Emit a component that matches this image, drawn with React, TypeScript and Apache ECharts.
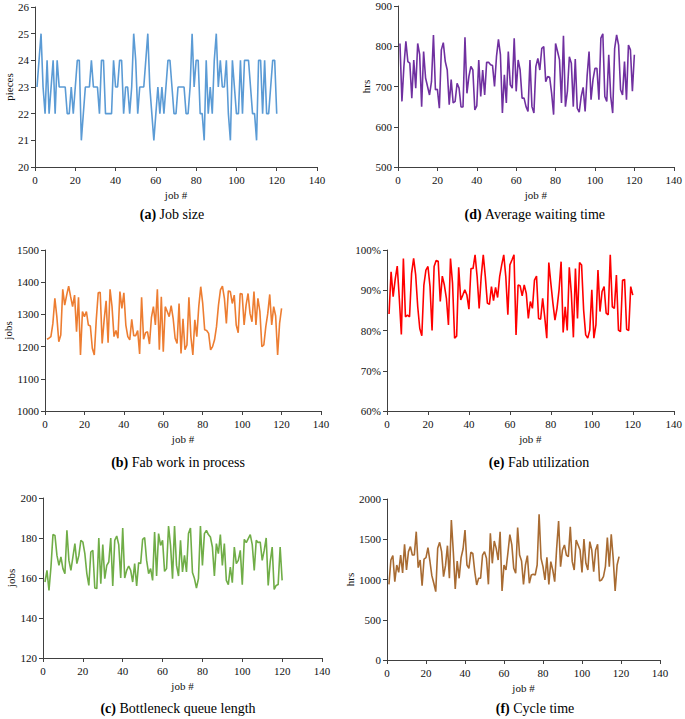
import React, { useEffect, useRef } from "react";
import * as echarts from "echarts";

const FONT = "Liberation Serif, Times New Roman, serif";

const jobSize = [23,24,25,23,22,24,22,23,24,22,24,23,23,23,23,22,22,23,22,23,24,24,21,22,23,23,23,24,23,23,23,22,24,24,22,22,22,22,24,23,23,24,24,22,23,23,22,23,25,24,22,23,23,23,24,25,23,22,21,22,23,22,23,22,23,24,24,23,22,22,23,23,23,23,22,22,23,25,23,24,24,22,22,21,24,22,23,22,24,25,23,24,23,23,24,22,21,24,23,22,22,24,22,24,24,24,23,22,22,21,24,24,22,24,22,22,23,24,24,22];

const avgWait = [807,663,750,812,762,758,671,766,696,807,779,650,787,721,700,679,712,828,692,693,646,791,809,762,741,655,717,659,663,708,696,649,649,822,683,725,750,741,642,652,766,675,741,679,760,760,754,752,700,774,817,779,634,729,
659,787,704,696,820,688,766,741,671,671,650,638,766,650,634,750,770,741,795,799,712,725,723,683,630,807,787,766,659,826,650,688,774,758,650,768,646,636,675,698,638,725,787,667,717,745,745,667,820,831,675,663,779,675,634,795,828,803,692,679,762,667,803,791,688,779];

const fabWip = [1223,1226,1231,1272,1350,1293,1215,1236,1378,1329,1360,1388,1355,1324,1360,1246,1353,1174,1309,1293,1309,1267,1264,1195,1174,1283,1367,1369,1210,1283,1342,1212,1378,1324,1231,1250,1226,1371,1319,1367,1267,1231,1221,1285,1234,1234,1250,1177,1353,1223,1243,1246,1208,1291,1324,1267,1378,1190,
1355,1184,1324,1309,1293,1327,1288,1226,1210,1334,1179,1286,1190,1205,1353,1231,1174,1283,1231,1324,1386,1334,1252,1250,1241,1190,1200,1221,1262,1329,1376,1388,1350,1272,1373,1371,1334,1360,1267,1243,1365,1363,1267,1329,1365,1303,1277,1371,1267,1350,1309,1200,1205,1262,1303,1362,1267,1324,1295,1174,1272,1319];

const fabUtil = [84.1,94.6,88.4,92.7,96.0,88.0,79.0,97.9,83.4,83.8,83.4,94.2,97.9,93.8,85.9,80.5,78.7,91.3,95.0,95.9,90.9,80.0,95.9,97.4,97.2,87.2,93.5,91.3,88.0,81.4,97.9,91.7,78.1,78.6,95.7,87.6,88.8,90.1,88.8,85.3,95.4,95.4,98.8,93.4,85.5,93.4,98.8,93.4,86.8,86.5,90.9,87.4,90.7,88.2,93.4,96.3,98.8,93.4,83.9,96.3,
97.5,98.8,78.9,91.3,91.1,88.6,91.3,89.2,83.0,87.2,85.5,92.5,93.5,83.0,82.8,88.0,83.4,78.1,96.9,91.7,86.8,82.6,85.5,90.1,97.1,79.5,85.9,80.0,95.7,89.2,78.3,95.4,83.0,96.9,96.3,85.1,78.9,78.1,80.1,90.1,78.1,81.4,95.0,84.7,89.7,90.9,84.3,83.9,98.8,85.9,85.5,93.8,80.1,79.7,92.5,92.7,80.3,80.0,90.9,88.8];

const queueLen = [158.0,163.8,153.8,165.5,181.7,181.3,171.3,166.3,170.5,164.7,162.2,183.8,168.8,163.8,170.5,177.2,167.2,171.3,178.8,178.0,172.2,162.2,156.3,173.0,173.8,155.0,154.7,180.0,157.2,176.7,159.7,166.3,168.0,180.0,156.0,178.8,181.0,176.7,160.0,185.0,160.0,163.8,166.0,163.8,158.0,167.2,156.0,167.7,167.2,179.3,180.2,168.8,162.2,164.7,158.8,183.0,161.0,
182.2,176.3,178.8,163.3,164.7,186,176.3,159.7,186,166.3,161,178.8,163,171.3,163,182.2,185,162.7,159.7,155,159.7,186,166.3,182.2,183.8,181.7,180.5,175.5,161,177.2,172.2,181.7,166.3,177.2,158.8,156.7,165.5,157.7,175.5,167.2,168.8,173.8,156.7,179.3,177.7,179.7,181.7,176.7,163.8,178.8,177.7,178,168.8,173.8,180,156.3,168,175.5,154.3,156.3,156.7,175.5,158.8];

const cycleTime = [940,1242,1296,973,1180,1089,1304,1081,1437,1118,1346,1408,1304,1304,1594,1147,1242,924,1254,1271,1396,1230,1048,953,849,1387,1462,1346,1035,1172,1420,1015,1739,1346,882,1230,1015,1271,1379,1615,1180,1139,1338,1325,1098,932,1015,1015,1304,1346,1263,940,1574,1201,1478,1387,1242,
1594,857,1180,1118,1329,1557,1433,1139,1077,1644,1304,1230,940,1180,1296,953,1056,1065,1056,1180,1810,1263,1160,994,1275,940,1222,1118,973,1387,1727,1160,1367,1429,1304,1284,1656,1222,1118,1491,1429,1367,1089,1503,1201,1118,1470,1367,1098,1367,1437,982,994,1035,1160,1520,1160,1561,1263,857,1180,1284];

const xTicks = { min: 0, max: 140, interval: 20 };

const panels = [
  { data: jobSize, color: "#5B9BD5", yMin: 20, yMax: 26, yInt: 1, yName: "pieces", yGap: 21, pct: false,
    grid: { left: 35, top: 7, width: 282, height: 160 }, title: ["(a)", " Job size"], tx: 172, ty: 214 },
  { data: avgWait, color: "#7030A0", yMin: 500, yMax: 900, yInt: 100, yName: "hrs", yGap: 26, pct: false,
    grid: { left: 398, top: 6, width: 280, height: 161 }, title: ["(d)", " Average waiting time"], tx: 535, ty: 214 },
  { data: fabWip, color: "#ED7D31", yMin: 1000, yMax: 1500, yInt: 100, yName: "jobs", yGap: 23, pct: false,
    grid: { left: 45, top: 250, width: 276, height: 161 }, title: ["(b)", " Fab work in process"], tx: 178, ty: 462 },
  { data: fabUtil, color: "#FF0000", yMin: 60, yMax: 100, yInt: 10, yName: "", yGap: 20, pct: true,
    grid: { left: 387, top: 250, width: 289, height: 161 }, title: ["(e)", " Fab utilization"], tx: 539, ty: 462 },
  { data: queueLen, color: "#70AD47", yMin: 120, yMax: 200, yInt: 20, yName: "jobs", yGap: 26, pct: false,
    grid: { left: 43, top: 498, width: 279, height: 160 }, title: ["(c)", " Bottleneck queue length"], tx: 178, ty: 708 },
  { data: cycleTime, color: "#A86B32", yMin: 0, yMax: 2000, yInt: 500, yName: "hrs", yGap: 15, pct: false,
    grid: { left: 387, top: 499, width: 273, height: 161 }, title: ["(f)", " Cycle time"], tx: 535, ty: 708 },
];

export default function App() {
  const ref = useRef<HTMLDivElement>(null);
  useEffect(() => {
    if (!ref.current) return;
    const chart = echarts.init(ref.current, null, { renderer: "svg" });
    const axisLine = { show: true, lineStyle: { color: "#404040", width: 1 } };
    const axisTick = { show: true, inside: false, length: 4, lineStyle: { color: "#404040" } };
    const labelStyle = { color: "#111", fontSize: 11, fontFamily: FONT };
    const option: any = {
      animation: false,
      backgroundColor: "#fff",
      grid: panels.map((p) => ({ ...p.grid, containLabel: false })),
      xAxis: panels.map((p, i) => ({
        type: "value",
        gridIndex: i,
        ...xTicks,
        name: "job #",
        nameLocation: "middle",
        nameGap: 22,
        nameTextStyle: { color: "#111", fontSize: 11, fontFamily: FONT },
        axisLine,
        axisTick,
        axisLabel: { ...labelStyle, margin: 7, formatter: (v: number) => String(v) },
        splitLine: { show: false },
      })),
      yAxis: panels.map((p, i) => ({
        type: "value",
        gridIndex: i,
        min: p.yMin,
        max: p.yMax,
        interval: p.yInt,
        name: p.yName,
        nameLocation: "middle",
        nameRotate: 90,
        nameGap: p.yGap,
        nameTextStyle: { color: "#111", fontSize: 11, fontFamily: FONT },
        axisLine,
        axisTick,
        axisLabel: {
          ...labelStyle,
          margin: 6,
          formatter: (v: number) => (p.pct ? `${v}%` : String(v)),
        },
        splitLine: { show: false },
      })),
      series: panels.map((p, i) => ({
        type: "line",
        xAxisIndex: i,
        yAxisIndex: i,
        data: p.data.map((v, j) => [j + 1, v]),
        showSymbol: false,
        symbol: "none",
        lineStyle: { color: p.color, width: 1.6 },
        itemStyle: { color: p.color },
      })),
      graphic: panels.map((p) => ({
        type: "text",
        x: p.tx,
        y: p.ty,
        style: {
          text: `{b|${p.title[0]}}{n|${p.title[1]}}`,
          align: "center",
          verticalAlign: "middle",
          fill: "#000",
          fontSize: 14,
          fontFamily: FONT,
          rich: {
            b: { fontWeight: "bold", fontSize: 14, fontFamily: FONT, fill: "#000" },
            n: { fontSize: 14, fontFamily: FONT, fill: "#000" },
          },
        },
      })),
    };
    chart.setOption(option);
    return () => chart.dispose();
  }, []);
  return (
    <div
      ref={ref}
      style={{ position: "fixed", left: 0, top: 0, width: 685, height: 719, background: "#fff" }}
    />
  );
}
